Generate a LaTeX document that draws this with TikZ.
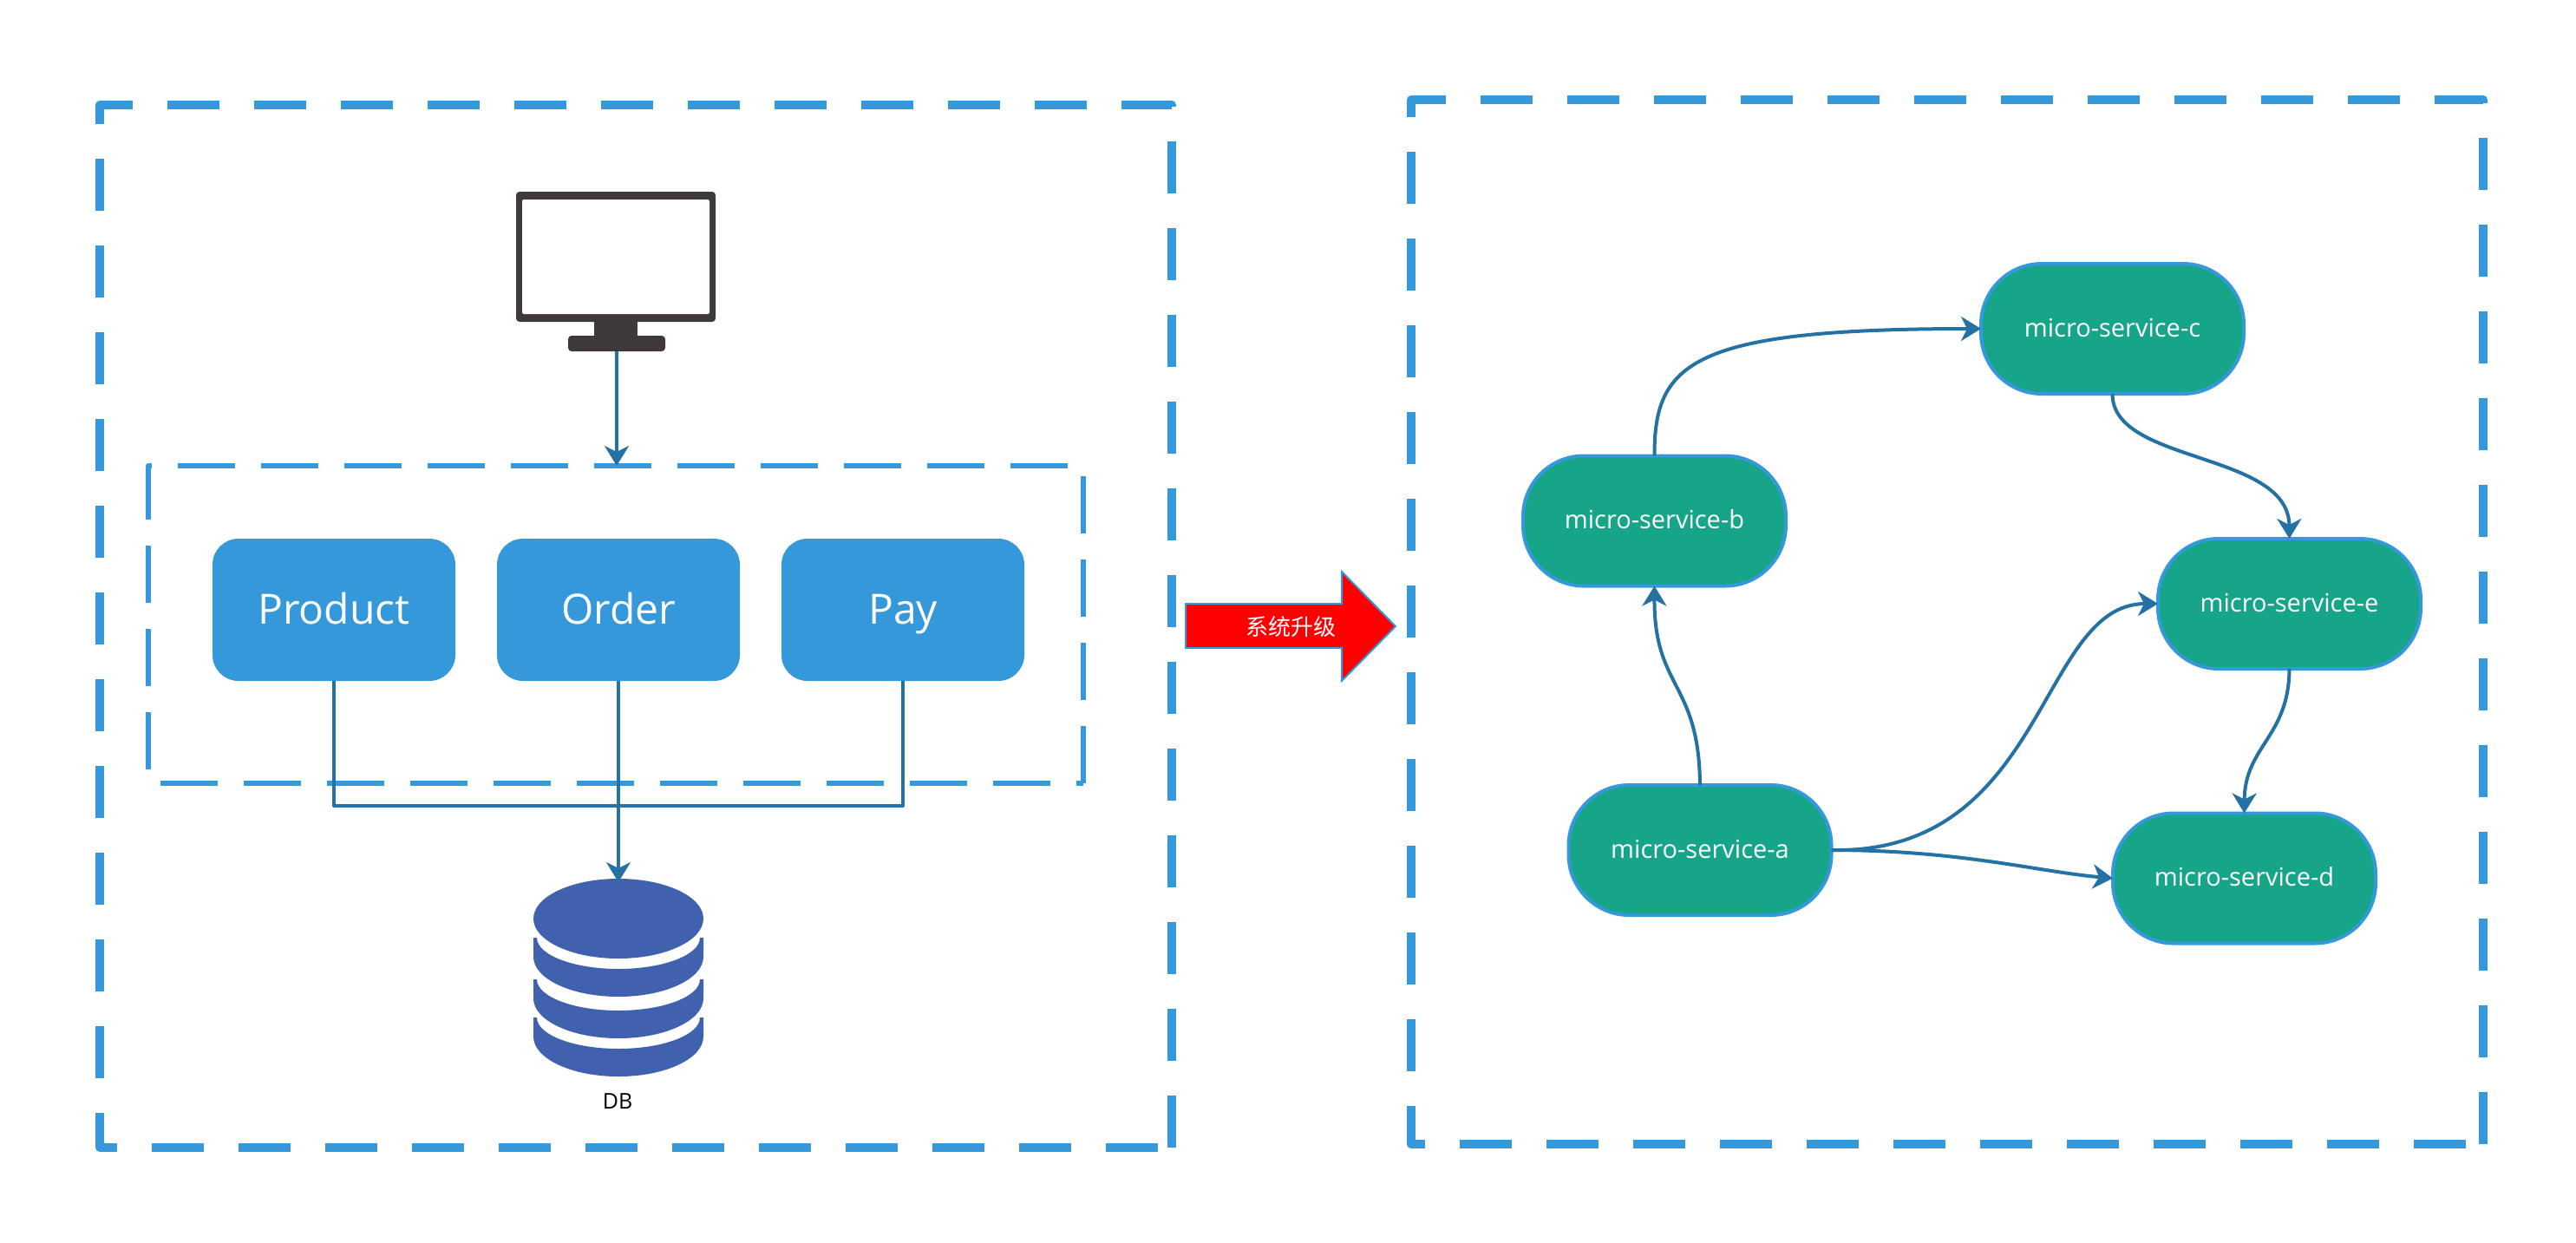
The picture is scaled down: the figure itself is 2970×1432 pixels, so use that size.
\documentclass[tikz,border=0pt]{standalone}
\usepackage{fontspec}
\setmainfont{Open Sans}
\newfontfamily\cjkfont{Noto Sans CJK SC}
\usetikzlibrary{arrows.meta,shapes.geometric}
\definecolor{framecol}{HTML}{3498DB}
\definecolor{linkcol}{HTML}{2471A3}
\definecolor{greencol}{HTML}{17A589}
\definecolor{darkcol}{HTML}{403939}
\definecolor{dbcol}{HTML}{4062AE}
\tikzset{
	bigframe/.style={draw=framecol,line width=5pt,line join=round,dash pattern=on 30pt off 20pt},
	midframe/.style={draw=framecol,line width=3pt,line join=round,dash pattern=on 33pt off 15pt},
	link/.style={draw=linkcol,line width=2pt,-{Stealth[length=11.5pt,width=14pt,inset=3.5pt]}},
	plainlink/.style={draw=linkcol,line width=2pt},
	svcbox/.style={fill=framecol,text=white,rounded corners=15pt,minimum width=140pt,minimum height=82pt,inner sep=0pt,outer sep=0pt,text height=18pt,text depth=2pt,font=\fontsize{24pt}{28pt}\selectfont},
	microbox/.style={draw=framecol,fill=greencol,line width=2pt,text=white,rounded corners=35pt,minimum width=151.5pt,minimum height=75pt,inner sep=0pt,outer sep=0pt,text height=11pt,text depth=2pt,font=\fontsize{14.5pt}{17pt}\selectfont},
	darkpart/.style={fill=darkcol,inner sep=0pt,outer sep=0pt,rounded corners=2pt},
}
\begin{document}
\begin{tikzpicture}[x=0.5pt,y=-0.5pt]
	\useasboundingbox (0,0) rectangle (2970,1432);
	\draw [bigframe] (1351,1323) -- (1351,121) -- (115,121) -- (115,1323) -- cycle;
	\draw [bigframe] (2863,1319) -- (2863,115) -- (1627,115) -- (1627,1319) -- cycle;
	\node [inner sep=0pt,outer sep=0pt,minimum width=539pt,minimum height=183pt] (group) at (710,720) {};
	\draw [midframe] (group.south east) -- (group.north east) -- (group.north west) -- (group.south west) -- cycle;
	\node [darkpart,minimum width=115pt,minimum height=75pt] (monitor) at (710,296) {};
	\node [fill=white,inner sep=0pt,rounded corners=1pt,minimum width=108pt,minimum height=66pt] (screen) at (710,296) {};
	\node [darkpart,rounded corners=0pt,minimum width=25pt,minimum height=9pt] (stand) at (710,380) {};
	\node [darkpart,minimum width=56pt,minimum height=9pt] (base) at (711,396) {};
	\draw [link] (base.south) -- (base.south |- group.north);
	\node [svcbox] (product) at (385,703) {Product};
	\node [svcbox] (order) at (713,703) {Order};
	\node [svcbox] (pay) at (1041,703) {Pay};
	\node [fill=dbcol,ellipse,inner sep=0pt,outer sep=0pt,minimum width=98pt,minimum height=46pt] (store) at (713,1059) {};
	\foreach \upper/\centre in {1081/1103,1129/1151,1173/1195}
		\fill [dbcol] (615,\upper) -- (615,\centre) arc [start angle=180,end angle=0,x radius=98,y radius=46] -- (811,\upper) -- (807,\upper) arc [start angle=0,end angle=180,x radius=94,y radius=36] -- (619,\upper) -- cycle;
	\node [font=\fontsize{12.5pt}{15pt}\selectfont] (storelabel) at (712,1270) {DB};
	\coordinate (joint) at (713,929);
	\draw [plainlink,line join=round] (product.south) -- (product.south |- joint) -- (pay.south |- joint) -- (pay.south);
	\draw [link,shorten >=-2pt] (order.south) -- (store.north);
	\draw [draw=framecol,fill=red,line width=1pt] (1367,696) -- (1547,696) -- (1547,659) -- (1609,722) -- (1547,785) -- (1547,747) -- (1367,747) -- cycle;
	\node [text=white,inner sep=0pt,font=\fontsize{13pt}{15pt}\cjkfont] (upgrade) at (1488,723) {系统升级};
	\node [microbox] (svca) at (1960,980) {micro-service-a};
	\node [microbox] (svcb) at (1907.5,600.5) {micro-service-b};
	\node [microbox] (svcc) at (2435.5,379) {micro-service-c};
	\node [microbox] (svcd) at (2587.5,1012.5) {micro-service-d};
	\node [microbox] (svce) at (2639.5,696) {micro-service-e};
	\draw [link] (svcb.north) .. controls (1907,418) and (1950,379) .. (svcc.west);
	\draw [link] (svcc.south) .. controls (2435,535) and (2639,520) .. (svce.north);
	\draw [link] (svce.south) .. controls (2639,850) and (2588,860) .. (svcd.north);
	\draw [link] (svca.north) .. controls (1959,785) and (1907,795) .. (svcb.south);
	\draw [link] (svca.east) .. controls (2360,985) and (2350,696) .. (svce.west);
	\draw [link] (svca.east) .. controls (2260,980) and (2350,1005) .. (svcd.west);
\end{tikzpicture}
\end{document}
